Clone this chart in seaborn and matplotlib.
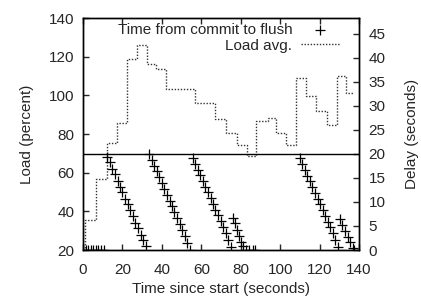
import matplotlib
matplotlib.use("Agg")
import matplotlib.pyplot as plt
import seaborn as sns
import pandas as pd

# load average samples (step plot, left axis)
load_time = [0.5, 1.2, 6.8, 12.3, 17.0, 22.2, 27.3, 32.3, 37.0, 42.2, 47.0, 52.0,
             57.0, 62.0, 67.0, 72.3, 78.0, 83.0, 87.7, 93.7, 98.0, 103.0, 108.2,
             113.0, 118.0, 123.6, 128.7, 133.3, 137.3]
load_avg = [20, 35.5, 56.6, 75.3, 85.5, 118.6, 126.0, 116.0, 113.5, 103.5, 103.5, 103.5,
            96.0, 96.0, 87.8, 80.7, 74.5, 68.6, 86.9, 88.1, 80.7, 74.3, 108.8,
            99.7, 91.9, 84.7, 110.0, 101.0, 101.0]

# commit -> flush delay (right axis)
commit_time = [0.0, 1.3, 2.6, 3.9, 5.2, 6.5, 7.8, 9.1, 10.4,
               12.3, 13.5, 14.9, 16.1, 17.5, 18.8, 20.0, 21.4, 22.7, 23.9, 25.3, 26.6, 27.8, 29.2, 30.5, 31.8,
               33.6, 34.8, 36.1, 37.4, 38.7, 40.0, 41.3, 42.6, 43.9, 45.2, 46.4, 47.7, 49.0, 50.4, 51.7, 53.0, 54.4,
               55.7, 57.0, 58.3, 59.5, 60.8, 62.1, 63.4, 64.7, 66.0, 67.2, 68.5, 69.8, 71.1, 72.4, 73.6, 74.9,
               76.1, 77.1, 78.3, 79.1, 80.0, 81.2, 82.6, 84.3, 86.0, 87.2,
               110.0, 111.3, 112.6, 113.8, 115.1, 116.4, 117.7, 119.0, 120.3, 121.5, 122.8, 124.1, 125.4, 126.7, 128.0, 129.2,
               130.4, 131.6, 132.9, 134.2, 135.5, 136.8, 137.6]
flush_delay = [0, 0, 0, 0, 0, 0, 0, 0, 0,
               19.4, 18.3, 16.9, 15.8, 14.4, 13.2, 12.0, 10.6, 9.5, 8.3, 7.0, 5.7, 4.6, 3.2, 2.1, 0.8,
               20.0, 18.8, 17.6, 16.4, 15.2, 14.0, 12.8, 11.5, 10.3, 9.1, 7.9, 6.7, 5.5, 4.2, 2.9, 1.4, 0.0,
               19.1, 17.9, 16.7, 15.6, 14.4, 13.2, 12.0, 10.8, 9.6, 8.4, 7.2, 6.0, 4.8, 3.6, 2.0, 0.6,
               6.6, 5.6, 4.2, 2.9, 1.7, 0.8, 0.0, 0.0, 0.0, 0.0,
               19.1, 17.9, 16.7, 15.5, 14.3, 13.1, 11.9, 10.7, 9.5, 8.3, 7.1, 5.9, 4.7, 3.5, 2.1, 0.6,
               6.5, 5.3, 4.0, 2.8, 1.6, 0.5, 0.1]

flush_interval = 20  # horizontal reference line (delay axis)

sns.set_style("ticks")
plt.rcParams['font.family'] = ['Liberation Sans', 'DejaVu Sans']
plt.rcParams['font.size'] = 11

load_df = pd.DataFrame({"t": load_time, "load": load_avg})
delay_df = pd.DataFrame({"t": commit_time, "delay": flush_delay})

fig = plt.figure(figsize=(4.21, 2.96), dpi=100)
ax = fig.add_axes([83 / 421, 1 - 250 / 296, 276 / 421, 232 / 296])
ax2 = ax.twinx()

sns.lineplot(data=load_df, x="t", y="load", ax=ax, color="#333333", lw=1,
             drawstyle="steps-post", linestyle=(0, (1, 1.2)), label="Load avg.")
sns.scatterplot(data=delay_df, x="t", y="delay", ax=ax2, marker="+", color="black",
                s=45, linewidth=0.9, label="Time from commit to flush")
ax2.axhline(flush_interval, color="black", lw=1)

ax.set_xlim(0, 140)
ax.set_ylim(20, 140)
ax2.set_ylim(0, 48.33)
ax.set_xticks(range(0, 141, 20))
ax.set_yticks(range(20, 141, 20))
ax2.set_yticks(range(0, 46, 5))

ax.set_xlabel("Time since start (seconds)", labelpad=4)
ax.set_ylabel("Load (percent)", labelpad=11)
ax2.set_ylabel("Delay (seconds)", labelpad=14)

for a in (ax, ax2):
    for s in a.spines.values():
        s.set_visible(True)
        s.set_linewidth(1)
        s.set_color("black")
ax.tick_params(axis="x", direction="in", length=4, top=True, width=1, pad=9)
ax.tick_params(axis="y", direction="in", length=4, right=False, width=1, pad=6)
ax2.tick_params(axis="y", direction="in", length=4, width=1, pad=7)

ax.get_legend().remove()
h1, l1 = ax2.get_legend_handles_labels()
h2, l2 = ax.get_legend_handles_labels()
ax2.legend(h1 + h2, l1 + l2, loc="upper right", bbox_to_anchor=(0.935, 0.985),
           markerfirst=False, frameon=False, handlelength=2.5, handletextpad=0.6,
           borderaxespad=0.0, borderpad=0.1, labelspacing=0.1, fontsize=11)

fig.savefig("out.png", dpi=100)
